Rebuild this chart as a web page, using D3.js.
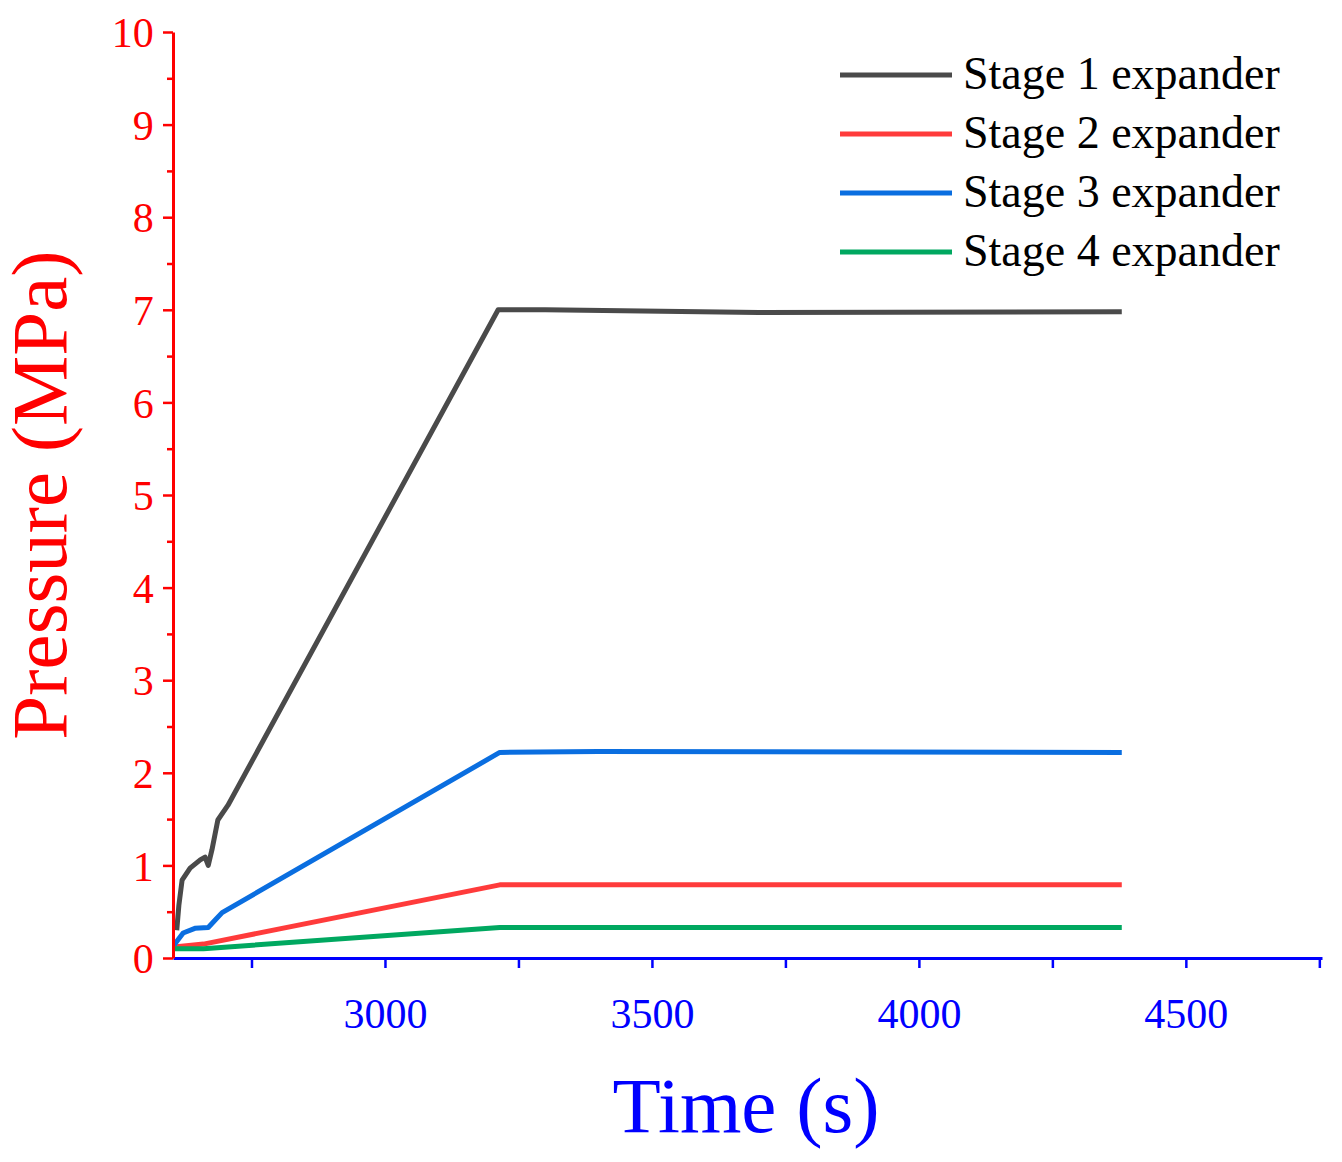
<!DOCTYPE html>
<html><head><meta charset="utf-8">
<script src="https://cdn.jsdelivr.net/npm/d3@7"></script>
<style>body{margin:0;background:#fff}</style>
</head><body>
<script>
var seriesNames=["Stage 1 expander","Stage 2 expander","Stage 3 expander","Stage 4 expander"];
var colors=["#4a4a4a","#ff3b3b","#0a6ee0","#00a860"];
var stage1=[[2610,0.30],[2614,0.57],[2620,0.84],[2635,0.97],[2654,1.06],[2663,1.09],[2669,1.0],[2676,1.17],[2687,1.49],[2706,1.65],[3212,7.0],[3300,7.0],[3700,6.97],[4380,6.98]];
var stage2=[[2605,0.12],[2660,0.15],[3215,0.79],[4380,0.79]];
var stage3=[[2605,0.14],[2622,0.27],[2644,0.32],[2669,0.33],[2682,0.41],[2695,0.49],[3215,2.22],[3400,2.23],[4380,2.22]];
var stage4=[[2605,0.10],[2660,0.10],[3215,0.33],[4380,0.33]];
var xTicks=[3000,3500,4000,4500];
var yTicks=[0,1,2,3,4,5,6,7,8,9,10];
var data=[stage1,stage2,stage3,stage4];

var W=1342,H=1162,m={l:173,r:20,t:32,b:204};
var font="'Liberation Serif','Times New Roman',serif";
var svg=d3.select("body").append("svg").attr("width",W).attr("height",H)
  .style("font-family",font);
var x=d3.scaleLinear().domain([2603,4755]).range([m.l,W-m.r]);
var y=d3.scaleLinear().domain([0,10]).range([H-m.b,m.t]);

var line=d3.line().x(d=>x(d[0])).y(d=>y(d[1]));
data.forEach((s,i)=>svg.append("path").datum(s).attr("d",line)
  .attr("fill","none").attr("stroke",colors[i]).attr("stroke-width",5).attr("stroke-linejoin","round"));

var xa=svg.append("g").attr("transform","translate(0,"+(H-m.b)+")")
  .call(d3.axisBottom(x).tickValues(d3.range(2750,4751,250)).tickSize(10).tickSizeOuter(0).tickFormat(d=>xTicks.includes(d)?d:""));
xa.attr("font-family",font);
xa.selectAll("line").attr("stroke","#00f").attr("stroke-width",2.5);
xa.select(".domain").attr("stroke","#00f").attr("stroke-width",3);
xa.selectAll("text").attr("fill","#00f").style("font-size","42px").attr("dy","1.35em");

var ya=svg.append("g").attr("transform","translate("+m.l+",0)")
  .call(d3.axisLeft(y).tickValues(d3.range(0,10.01,0.5)).tickSize(10).tickSizeOuter(0).tickFormat(d=>yTicks.includes(d)?d:""));
ya.attr("font-family",font);
ya.selectAll(".tick").filter(d=>!yTicks.includes(d)).select("line").attr("x2",-6);
ya.selectAll("line").attr("stroke","#f00").attr("stroke-width",2.5);
ya.select(".domain").attr("stroke","#f00").attr("stroke-width",3);
ya.selectAll("text").attr("fill","#f00").style("font-size","42px").attr("dx","-0.15em").attr("dy","0.35em");

svg.append("text").attr("x",746).attr("y",1132).attr("text-anchor","middle")
  .attr("fill","#00f").style("font-size","79px").text("Time (s)");
svg.append("text").attr("transform","translate(66,"+((m.t+H-m.b)/2)+") rotate(-90)").attr("text-anchor","middle")
  .attr("fill","#f00").style("font-size","79px").text("Pressure (MPa)");

var lg=svg.append("g");
seriesNames.forEach((n,i)=>{
  var yy=75+i*59;
  lg.append("line").attr("x1",840).attr("x2",952).attr("y1",yy).attr("y2",yy).attr("stroke",colors[i]).attr("stroke-width",5);
  lg.append("text").attr("x",963).attr("y",yy+14).style("font-size","46px").attr("fill","#000").text(n);
});
</script>
</body></html>
